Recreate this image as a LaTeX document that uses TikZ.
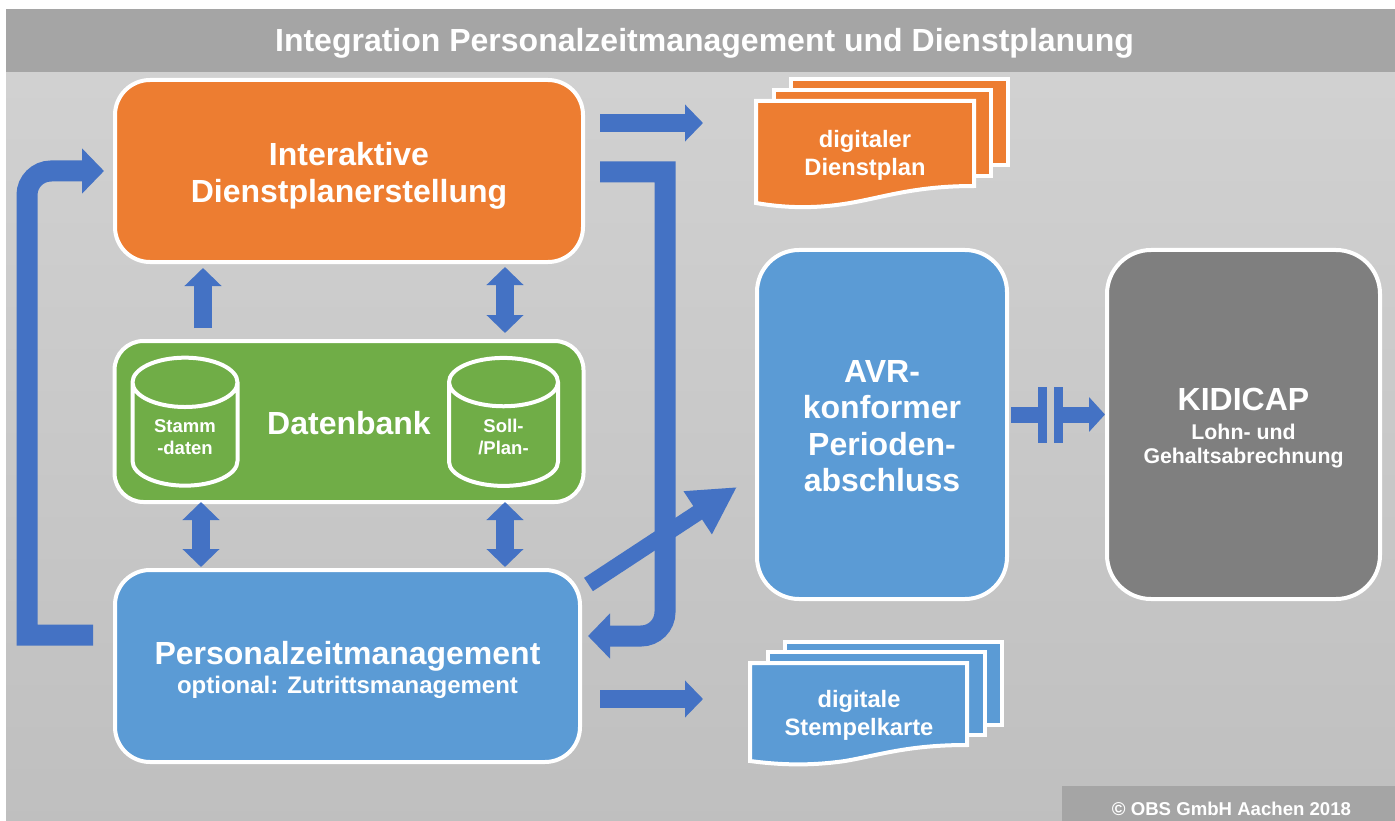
\documentclass[tikz,border=0pt]{standalone}
\usepackage{fontspec}
\setmainfont{Liberation Sans}
\usetikzlibrary{arrows.meta,shapes.geometric}
\definecolor{planorange}{HTML}{ED7D31}
\definecolor{zeitblue}{HTML}{5B9BD5}
\definecolor{bankgreen}{HTML}{70AD47}
\definecolor{arrowblue}{HTML}{4472C4}
\definecolor{lohngray}{HTML}{7F7F7F}
\definecolor{barGray}{HTML}{A5A5A5}
\newcommand\dropline[1]{\rule{0pt}{#1}}
\tikzset{
  box/.style={draw=white,line width=4pt,text=white,align=center,font=\bfseries,rounded corners=35pt},
  sheet/.style={draw=white,line width=4pt,line join=miter},
  sheettext/.style={text=white,align=center,font=\fontsize{23.7}{28}\selectfont\bfseries},
  dbcan/.style={cylinder,shape border rotate=90,aspect=0.8,draw=white,line width=4pt,text=white,
    align=center,font=\fontsize{18.5}{22}\selectfont\bfseries,minimum width=105pt,minimum height=128pt,inner sep=0pt},
  blockarrow/.style={draw=arrowblue,line width=18pt,line join=miter,-{Triangle[length=18pt,width=36pt]}},
  twoway/.style={draw=arrowblue,line width=18pt,{Triangle[length=18pt,width=36pt]}-{Triangle[length=18pt,width=36pt]}},
  looparrow/.style={draw=arrowblue,line width=21pt,line join=miter,-{Triangle[length=22pt,width=44pt]}}
}
\begin{document}
\begin{tikzpicture}[x=1pt,y=-1pt]
  \useasboundingbox (0,0) rectangle (1395,821);
  % panel
  \shade[top color=black!18,bottom color=black!25] (6,72) rectangle (1395,821);
  \node[fill=barGray,text=white,minimum width=1389pt,minimum height=63pt,inner sep=0pt,
    text height=22pt,text depth=0pt,font=\fontsize{32}{37}\selectfont\bfseries] (title) at (700.5,40.5)
    {\hspace*{8pt}Integration Personalzeitmanagement und Dienstplanung};
  \node[fill=barGray,text=white,minimum width=333pt,minimum height=35pt,inner sep=0pt,
    text height=24.4pt,text depth=0pt,font=\fontsize{18.6}{20}\selectfont\bfseries] (copyright) at (1228.5,803.5)
    {\hspace*{6pt}© OBS GmbH Aachen 2018};
  % main boxes
  \node[box,fill=planorange,minimum width=468pt,minimum height=182pt,font=\fontsize{32}{37}\selectfont\bfseries]
    (plan) at (349,171) {\dropline{33pt}Interaktive\\Dienstplanerstellung};
  \node[box,fill=bankgreen,minimum width=469pt,minimum height=161pt,rounded corners=29pt,
    text height=26pt,text depth=0pt,font=\fontsize{32}{37}\selectfont\bfseries] (bank) at (349,421.5) {Datenbank};
  \node[box,fill=zeitblue,minimum width=465pt,minimum height=192pt,font=\fontsize{24}{29}\selectfont\bfseries]
    (zeit) at (347.5,666) {\dropline{31pt}{\fontsize{32}{32}\selectfont Personalzeitmanagement}\\
    optional: Zutrittsmanagement};
  \node[box,fill=zeitblue,minimum width=250pt,minimum height=349pt,rounded corners=42pt,
    font=\fontsize{32}{36.5}\selectfont\bfseries] (avr) at (882,424.5)
    {\dropline{25pt}AVR-\\konformer\\Perioden-\\abschluss};
  \node[box,fill=lohngray,minimum width=273pt,minimum height=349pt,rounded corners=44pt,
    font=\fontsize{21.3}{24.5}\selectfont\bfseries] (kidicap) at (1243.5,424.5)
    {\dropline{30pt}{\fontsize{32}{32}\selectfont KIDICAP}\\[4pt]Lohn- und\\Gehaltsabrechnung};
  % cans in the database
  \node[dbcan] (stamm) at (185,435) {\dropline{17.5pt}Stamm\\-daten};
  \node[dbcan,minimum width=109pt,aspect=0.96] (soll) at (503.5,435) {\dropline{17.5pt}Soll-\\/Plan-};
  % paper stacks
  \foreach \x/\y in {791/79,774/90} {
    \draw[sheet,fill=planorange] (\x,\y) rectangle ++(217,86);
  }
  \draw[sheet,fill=planorange] (756,101) -- (974,101) -- (974,186)
    .. controls (915,186) and (885,197) .. (850,203)
    .. controls (815,209) and (785,208) .. (756,203) -- cycle;
  \node[sheettext] (dienstplan) at (865,155) {digitaler\\Dienstplan};
  \foreach \x/\y in {785/642,768/652} {
    \draw[sheet,fill=zeitblue] (\x,\y) rectangle ++(217,83);
  }
  \draw[sheet,fill=zeitblue] (750,663) -- (967,663) -- (967,745)
    .. controls (908,745) and (880,755) .. (845,761)
    .. controls (810,766) and (780,765) .. (750,761) -- cycle;
  \node[sheettext] (karte) at (859,715) {digitale\\Stempelkarte};
  % free ends and bends
  \coordinate (plantip) at (703,123);
  \coordinate (kartetip) at (703,699);
  \coordinate (loopbot) at (27,635);
  \coordinate (looptop) at (27,171);
  \coordinate (bustop) at (665,172);
  \coordinate (busbot) at (665,636);
  % connectors
  \draw[blockarrow,shorten <=15pt] ([yshift=48pt]plan.east) -- (plantip);
  \draw[blockarrow,shorten <=18pt] ([yshift=-33pt]zeit.east) -- (kartetip);
  \draw[blockarrow,shorten <=11pt,shorten >=4pt] ([xshift=-146pt]bank.north) -- ([xshift=-146pt]plan.south);
  \draw[twoway,shorten <=6pt,shorten >=3pt] ([xshift=156pt]bank.north) -- ([xshift=156pt]plan.south);
  \draw[twoway,shorten <=-2pt,shorten >=1pt] ([xshift=-148pt]bank.south) -- ([xshift=-146.5pt]zeit.north);
  \draw[twoway,shorten <=-2pt,shorten >=1pt] ([xshift=156pt]bank.south) -- ([xshift=157.5pt]zeit.north);
  \draw[looparrow,shorten <=20pt,shorten >=9pt] ([yshift=31pt]zeit.west) -- (loopbot) [rounded corners=24pt] -- (looptop) -- (plan.west);
  \draw[looparrow,shorten <=15pt,shorten >=6pt] ([yshift=-1pt]plan.east) -- (bustop) [rounded corners=24pt] -- (busbot) -- ([yshift=30pt]zeit.east);
  \draw[draw=arrowblue,line width=16pt,-{Triangle[length=47pt,width=48pt]}]
    ([xshift=6.5pt,yshift=-16.5pt]zeit.north east) -- ([xshift=-18pt,yshift=-62.5pt]avr.west);
  % gap between period close and payroll
  \node[fill=arrowblue,minimum width=9pt,minimum height=56pt,inner sep=0pt] (gapleft) at (1042.5,414.5) {};
  \node[fill=arrowblue,minimum width=9pt,minimum height=56pt,inner sep=0pt] (gapright) at (1058.5,414.5) {};
  \draw[draw=arrowblue,line width=16pt,shorten <=2pt] ([yshift=10pt]avr.east) -- (gapleft.center);
  \draw[draw=arrowblue,line width=16pt,-{Triangle[length=16pt,width=34pt]}] (gapright.center) -- ([yshift=10pt]kidicap.west);
\end{tikzpicture}
\end{document}
